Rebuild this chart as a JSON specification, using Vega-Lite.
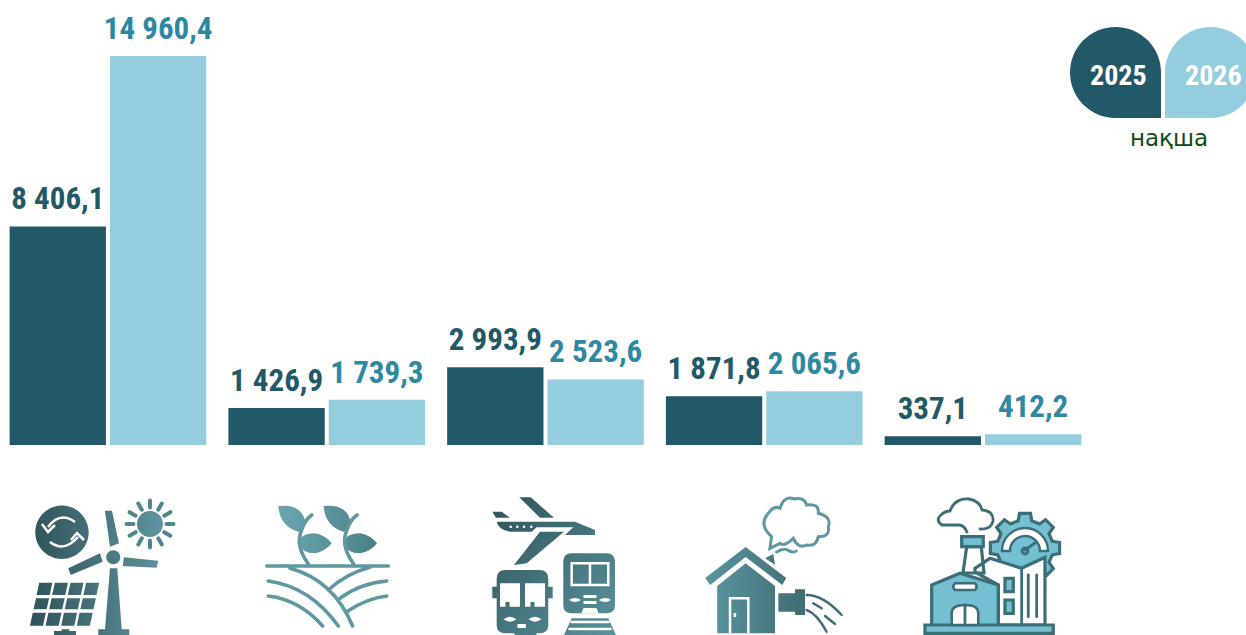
{
"$schema":"https://vega.github.io/schema/vega-lite/v6.json",
"width":1246,"height":635,"padding":0,"autosize":{"type":"none"},
"background":"#ffffff",
"config":{"view":{"stroke":null},"locale":{"number":{"decimal":",","thousands":" ","grouping":[3],"currency":["",""]}}},
"data":{"values":[
{"group":"energy","year":"2025","value":8406.1},{"group":"energy","year":"2026","value":14960.4},
{"group":"agriculture","year":"2025","value":1426.9},{"group":"agriculture","year":"2026","value":1739.3},
{"group":"transport","year":"2025","value":2993.9},{"group":"transport","year":"2026","value":2523.6},
{"group":"housing","year":"2025","value":1871.8},{"group":"housing","year":"2026","value":2065.6},
{"group":"industry","year":"2025","value":337.1},{"group":"industry","year":"2026","value":412.2}
]},
"encoding":{
"x":{"field":"group","type":"nominal","axis":null,"sort":null,"scale":{"domain":["energy","agriculture","transport","housing","industry"],"range":[-1.4,1092.35],"paddingInner":0,"paddingOuter":0}},
"y":{"field":"value","type":"quantitative","axis":null,"scale":{"domain":[-7307,17114],"nice":false,"zero":false}}
},
"layer":[
{"mark":{"type":"bar"},"encoding":{
"xOffset":{"field":"year","type":"nominal","scale":{"paddingInner":0.04,"paddingOuter":0.11}},
"color":{"field":"year","type":"nominal","legend":{"title":"нақша","orient":"none"},"scale":{"domain":["2025","2026"],"range":["#225968","#94CDDE"]}}}},
{"mark":{"type":"text","font":"Roboto Condensed, Roboto","fontWeight":"bold","fontSize":31,"baseline":"alphabetic","align":"center","dy":-17},"encoding":{
"xOffset":{"field":"year","type":"nominal","scale":{"paddingInner":0.04,"paddingOuter":0.11}},
"text":{"field":"value","type":"quantitative","format":",.1f"},
"color":{"condition":{"test":"datum.year==='2026'","value":"#2E88A2"},"value":"#225968"}}},
{"mark":{"type":"point","filled":true,"opacity":1,"size":0},"encoding":{
"color":{"field":"year","type":"nominal","legend":{"title":"нақша","orient":"none","legendX":1070,"legendY":27,"direction":"horizontal","columns":2,"columnPadding":4,"padding":0,"symbolSize":8281,"symbolOpacity":1,"symbolStrokeWidth":0,"labelOffset":-71,"labelFont":"Roboto Condensed, Roboto","labelFontWeight":"bold","labelFontSize":28,"labelColor":"#ffffff","titleOrient":"bottom","titleAnchor":"middle","titleFont":"DejaVu Sans","titleFontWeight":"normal","titleFontSize":23,"titleColor":"#0F4C0F","titlePadding":10,"encode":{"labels":{"update":{"dy":{"value":4}}},"title":{"update":{"dx":{"value":6}}}}}},
"shape":{"field":"year","type":"nominal","legend":{"title":"нақша","orient":"none"},"scale":{"domain":["2025","2026"],"range":["M-1,0A1,1 0 0 1 0,-1A1,1 0 0 1 1,0L1,1L0,1A1,1 0 0 1 -1,0Z","M-1,0A1,1 0 0 1 0,-1A1,1 0 0 1 1,0A1,1 0 0 1 0,1L-1,1Z"]}}}},

{"data":{"values":[{"group":"energy","value":-4615}]},"mark":{"type":"point","size":4,"opacity":1,"filled":true,"fill":{"x1":0,"y1":0,"x2":1,"y2":0,"gradient":"linear","stops":[{"offset":0,"color":"#2F5259"},{"offset":1,"color":"#5F949E"}]},
"shape":"M-72.7,-32.7A26.7,26.7 0 1 1 -19.3,-32.7A26.7,26.7 0 1 1 -72.7,-32.7ZM2,3.3L9.3,3.3L13.7,64.3L21.3,64.3L21.3,70L-9.7,70L-9.7,64.3L-3,64.3ZM-1.7,-7.7A7,7 0 1 1 12.3,-7.7A7,7 0 1 1 -1.7,-7.7ZM-3,-54.3L4,-54.3L11,-21.7L2,-18.3ZM16,-7.7L50.3,-4.3L48.7,2.7L14.7,1ZM-39.7,3.3L-8,-11.7L-5.3,-3.3L-37.3,10ZM29,-41A13,13 0 1 1 55,-41A13,13 0 1 1 29,-41ZM-68.7,17.7L-55.6,17.7L-58.3,30L-71.4,30ZM-53.1,17.7L-40,17.7L-42.7,30L-55.8,30ZM-37.5,17.7L-24.4,17.7L-27.1,30L-40.2,30ZM-21.9,17.7L-8.8,17.7L-11.5,30L-24.6,30ZM-72,33.3L-58.9,33.3L-61.3,44.3L-74.4,44.3ZM-56.4,33.3L-43.3,33.3L-45.7,44.3L-58.8,44.3ZM-40.8,33.3L-27.7,33.3L-30.1,44.3L-43.2,44.3ZM-25.2,33.3L-12.1,33.3L-14.5,44.3L-27.6,44.3ZM-75.2,47.7L-62.1,47.7L-64.9,60.7L-78,60.7ZM-59.6,47.7L-46.5,47.7L-49.3,60.7L-62.4,60.7ZM-44,47.7L-30.9,47.7L-33.7,60.7L-46.8,60.7ZM-28.4,47.7L-15.3,47.7L-18.1,60.7L-31.2,60.7ZM-46.3,64.3L-38.7,64.3L-38.7,66L-32,66L-32,70L-54,70L-54,66L-46.3,66Z"}},
{"data":{"values":[{"group":"energy","value":-4615}]},"mark":{"type":"point","size":4,"opacity":1,"filled":false,"stroke":"#4F8690","strokeWidth":4,"strokeCap":"round",
"shape":"M58.5,-41L65.5,-41M56.3,-32.8L62.4,-29.3M50.3,-26.7L53.8,-20.6M42,-24.5L42,-17.5M33.8,-26.7L30.3,-20.6M27.7,-32.8L21.6,-29.3M25.5,-41L18.5,-41M27.7,-49.3L21.6,-52.8M33.8,-55.3L30.3,-61.4M42,-57.5L42,-64.5M50.3,-55.3L53.8,-61.4M56.3,-49.3L62.4,-52.8"}},
{"data":{"values":[{"group":"energy","value":-4615}]},"mark":{"type":"point","size":4,"opacity":1,"filled":false,"stroke":"#ffffff","strokeWidth":2.5,
"shape":"M-33,-43Q-48,-54 -60,-38M-66,-41L-60,-33L-53,-40M-58,-23Q-44,-12 -30,-28M-37,-25L-31,-32L-24,-25"}},

{"data":{"values":[{"group":"agriculture","value":-4615}]},"mark":{"type":"point","size":4,"opacity":1,"filled":true,"fill":{"x1":0,"y1":0,"x2":1,"y2":0,"gradient":"linear","stops":[{"offset":0,"color":"#6BA6B0"},{"offset":1,"color":"#4B808A"}]},
"shape":"M-48.4,-59Q-26.8,-61.7 -21.8,-45Q-22,-33 -28.4,-33.3Q-46.8,-38.3 -48.4,-59ZM-28.4,-21.7Q-26.8,-31.7 -11.8,-31.7Q-1.8,-30 5,-21.7Q-1.8,-13.3 -11.8,-11.7Q-25.1,-11.7 -28.4,-21.7ZM-3.1,-59Q18.5,-61.7 23.5,-45Q23.3,-33 16.9,-33.3Q-1.5,-38.3 -3.1,-59ZM16.9,-21.7Q18.5,-31.7 33.5,-31.7Q43.5,-30 50.3,-21.7Q43.5,-13.3 33.5,-11.7Q20.2,-11.7 16.9,-21.7Z"}},
{"data":{"values":[{"group":"agriculture","value":-4615}]},"mark":{"type":"point","size":4,"opacity":1,"filled":false,"stroke":"#5F98A2","strokeWidth":3.6,"strokeCap":"round",
"shape":"M-60,1L61.6,1M-18.4,-1Q-32,-20 -25.1,-35Q-22,-45 -15,-50M26.9,-1Q13.3,-20 20.2,-35Q23.3,-45 30.3,-50M-36.7,3.3Q6.6,15 25.9,61M-58.4,16Q-16.8,21.7 11.6,61M-58.4,31Q-26.8,35 -4.1,61M43.3,2.3Q20,8.3 1.6,25M60,16Q33.3,18.3 13.3,33.3M60,31Q40,33.3 20,46.7"}},

{"data":{"values":[{"group":"transport","value":-4615}]},"mark":{"type":"point","size":4,"opacity":1,"filled":true,"fill":{"x1":0,"y1":0,"x2":1,"y2":1,"gradient":"linear","stops":[{"offset":0,"color":"#2F5259"},{"offset":1,"color":"#5A949E"}]},
"shape":"M-48.8,-43.3L29.5,-43.3L49.5,-35L49.5,-30L19.5,-30L27.8,-37.7L-8.8,-37.7L-13.8,-33.3L-35.5,-33.3Q-47,-35 -48.8,-43.3ZM-26.2,-67.7L-14.8,-67.7L8.5,-47.3L-5.5,-47.3ZM-53.2,-53.3L-43.8,-53.3L-35.5,-47.3L-49.5,-47.3ZM-5.5,-33.3L18.5,-33.3L-18.8,-1.7L-31.5,0ZM-40,5L-6,5Q2.8,5 2.8,14L2.8,21.7L7.2,21.7L7.2,33.3L2.8,33.3L2.8,60Q2.8,68.3 -6,68.3L-9,68.3L-9,70L-31,70L-31,68.3L-40,68.3Q-48.8,68.3 -48.8,60L-48.8,33.3L-53.2,33.3L-53.2,21.7L-48.8,21.7L-48.8,14Q-48.8,5 -40,5ZM26,-11.7L61,-11.7Q69.5,-11.7 69.5,-3L69.5,40Q69.5,48.3 61,48.3L26,48.3Q17.8,48.3 17.8,40L17.8,-3Q17.8,-11.7 26,-11.7ZM26.2,53.3L62.8,53.3L70.5,70L18.5,70Z"}},
{"data":{"values":[{"group":"transport","value":-4615}]},"mark":{"type":"point","size":4,"opacity":1,"filled":true,"fill":"#ffffff",
"shape":"M-45.5,18.3L-25.5,18.3L-25.5,41.7L-36,41.7L-36,37L-40,37L-40,41.7L-45.5,41.7ZM-20.5,18.3L-0.5,18.3L-0.5,41.7L-11,41.7L-11,37L-15,37L-15,41.7L-20.5,41.7ZM-42,54.3Q-35.5,49 -29,54.3Q-35.5,59 -42,54.3ZM-17,54.3Q-10.5,49 -4,54.3Q-10.5,59 -17,54.3ZM-28,59L-19.6,59L-19.6,63L-28,63ZM23.5,35Q29.5,31 35.5,35Q29.5,39 23.5,35ZM53.5,35Q59.5,31 65.5,35Q59.5,39 53.5,35ZM38,30L51,30L51,33L38,33ZM38,36L51,36L51,39L38,39ZM36,48.3L38,43L51,43L53,48.3Z"}},
{"data":{"values":[{"group":"transport","value":-4615}]},"mark":{"type":"point","size":4,"opacity":1,"filled":false,"stroke":"#ffffff","strokeWidth":2.5,"strokeCap":"round",
"shape":"M26.2,-1.7L62.8,-1.7L62.8,20L26.2,20ZM44.5,-1.7L44.5,20M26,57L63,57M24,64L65,64M-34.8,-38.3L-34.7,-38.3M-28.2,-38.3L-28.1,-38.3M-21.5,-38.3L-21.4,-38.3M-14.2,-38.3L-14.1,-38.3"}},

{"data":{"values":[{"group":"housing","value":-4615}]},"mark":{"type":"point","size":4,"opacity":1,"filled":true,"fill":{"x1":0,"y1":0,"x2":1,"y2":0,"gradient":"linear","stops":[{"offset":0,"color":"#5A96A0"},{"offset":1,"color":"#3F6C75"}]},
"shape":"M-47,21L-18.6,-1.7L10.8,21L10.8,68.3L-47,68.3ZM-59,13L-18.6,-18L22,13L18,20L-18.6,-8L-54,20ZM0.8,-6.7L9,-11L10.8,0L8,-2ZM14.1,28.3L30.8,28.3L30.8,24.3L40.8,24.3L40.8,50L30.8,50L30.8,46.7L14.1,46.7Z"}},
{"data":{"values":[{"group":"housing","value":-4615}]},"mark":{"type":"point","size":4,"opacity":1,"filled":false,"stroke":"#ffffff","strokeWidth":2.5,
"shape":"M-34.2,68.3L-34.2,33.3L-15.9,33.3L-15.9,68.3M-29.3,48L-29.3,52"}},
{"data":{"values":[{"group":"housing","value":-4615}]},"mark":{"type":"point","size":4,"opacity":1,"filled":false,"stroke":"#5F98A2","strokeWidth":3,"strokeCap":"round",
"shape":"M5.7,-16.7L7.4,-28.3Q-6,-40 4,-51.7Q10,-60 15.8,-56.7Q20,-70 30,-66Q40,-68 42.4,-60Q55,-62 54.1,-51.7Q68,-48 64,-38Q66,-28 54,-28.3Q52,-18 42.4,-20Q34,-16 29,-26.7Q20,-18 15.8,-21.7ZM12.4,-13Q20,-18 25,-14Q30,-12 32,-14"}},
{"data":{"values":[{"group":"housing","value":-4615}]},"mark":{"type":"point","size":4,"opacity":1,"filled":false,"stroke":"#3F6C75","strokeWidth":2.4,"strokeCap":"round",
"shape":"M42.4,30Q59,30 77.4,50M42.4,45Q52.4,48.3 62.4,66.7M49,38.3L57.4,43.3M60.8,51L70.8,59"}},

{"data":{"values":[{"group":"industry","value":-4615}]},"mark":{"type":"point","size":4,"opacity":1,"filled":true,"fill":"#75BFD2","stroke":"#3C6E78","strokeWidth":3.2,
"shape":"M69.2,-23.8L76.6,-22.5L76.6,-11.5L69.2,-10.2L66,-2.6L70.3,3.6L62.6,11.3L56.4,7L48.8,10.2L47.5,17.6L36.5,17.6L35.2,10.2L27.6,7L21.4,11.3L13.7,3.6L18,-2.6L14.8,-10.2L7.4,-11.5L7.4,-22.5L14.8,-23.8L18,-31.4L13.7,-37.6L21.4,-45.3L27.6,-41L35.2,-44.2L36.5,-51.6L47.5,-51.6L48.8,-44.2L56.4,-41L62.6,-45.3L70.3,-37.6L66,-31.4Z"}},
{"data":{"values":[{"group":"industry","value":-4615}]},"mark":{"type":"point","size":4,"opacity":1,"filled":true,"fill":"#ffffff","stroke":"#3C6E78","strokeWidth":2.4,
"shape":"M19,-14A23,23 0 0 1 65,-14L57,-14A15,15 0 0 0 27,-14Z"}},
{"data":{"values":[{"group":"industry","value":-4615}]},"mark":{"type":"point","size":4,"opacity":1,"filled":true,"fill":"#ffffff","stroke":"#3C6E78","strokeWidth":3.2,
"shape":"M-8,3.3L7,-6.7L38.7,3.3L62,-7.7L62,60L15.3,60L15.3,20L-8,7ZM-16.3,-18.3L-1.7,-18.3L1,8L-20,8Z"}},
{"data":{"values":[{"group":"industry","value":-4615}]},"mark":{"type":"point","size":4,"opacity":1,"filled":true,"fill":"#75BFD2","stroke":"#3C6E78","strokeWidth":3.2,
"shape":"M-51.3,20L-23,8.3L15.3,20L15.3,60L-51.3,60ZM-21.3,-28.3L0.3,-28.3L0.3,-18.3L-21.3,-18.3ZM-58,60L70.3,60L70.3,68.3L-58,68.3ZM22,13.3L30.3,13.3L30.3,26.7L22,26.7ZM22,35L30.3,35L30.3,48.3L22,48.3Z"}},
{"data":{"values":[{"group":"industry","value":-4615}]},"mark":{"type":"point","size":4,"opacity":1,"filled":true,"fill":"#ffffff","stroke":"#3C6E78","strokeWidth":2.6,
"shape":"M-31.3,60L-31.3,48Q-31.3,40 -18,40Q-4.7,40 -4.7,48L-4.7,60ZM-28,18.3L-8,18.3Q-4.7,21.6 -8,25L-28,25Q-31.3,21.6 -28,18.3Z"}},
{"data":{"values":[{"group":"industry","value":-4615}]},"mark":{"type":"point","size":4,"opacity":1,"filled":false,"stroke":"#3C6E78","strokeWidth":2.8,"strokeCap":"round",
"shape":"M-18,40L-18,60M38.7,3.3L38.7,60M45.3,10L45.3,51.7M53.7,10L53.7,51.7M-16,-33Q-19,-40 -24,-40L-41,-40Q-48,-45 -42,-50Q-38,-54 -33,-54Q-28,-67 -14,-66Q-3,-64 -1,-55Q11,-54 10,-44Q8,-35 -3,-36M42,-15L52,-22M39,-14A3,3 0 1 0 45,-14A3,3 0 1 0 39,-14"}}
]
}
